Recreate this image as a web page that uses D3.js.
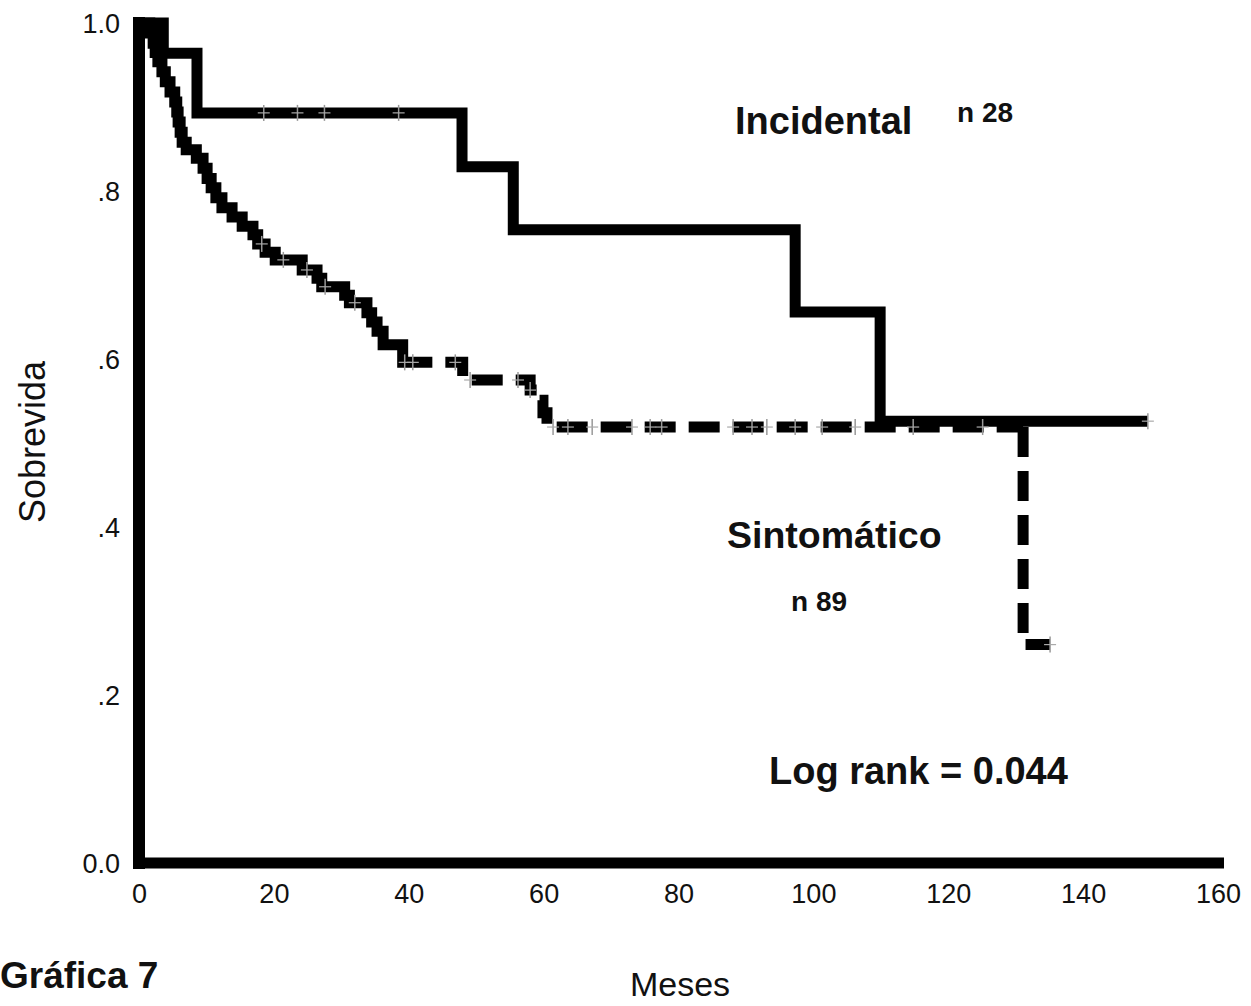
<!DOCTYPE html>
<html>
<head>
<meta charset="utf-8">
<script src="https://cdn.jsdelivr.net/npm/d3@7"></script>
<style>
  body { margin: 0; background: #fff; }
  text { font-family: "Liberation Sans", Arial, sans-serif; fill: #111; }
  .lbl { font-weight: bold; }
</style>
</head>
<body>
<svg id="chart"></svg>
<script>
// Kaplan-Meier steps: [month, survival after the step]
const incidental = [
  [0, 1.0], [3.6, 0.964], [8.6, 0.893], [47.9, 0.829], [55.5, 0.754],
  [97.3, 0.656], [109.9, 0.526], [149.6, 0.526]
];
const sintomatico = [
  [0, 1.0], [1.6, 0.988], [2.1, 0.976], [2.4, 0.965], [2.8, 0.954], [3.4, 0.942],
  [3.9, 0.930], [4.6, 0.918], [5.3, 0.906], [5.6, 0.894], [5.8, 0.882], [6.1, 0.870],
  [6.4, 0.858], [7.0, 0.849], [8.5, 0.839], [9.5, 0.827], [10.1, 0.815], [10.7, 0.804],
  [11.4, 0.792], [12.3, 0.780], [13.8, 0.769], [15.3, 0.758], [16.9, 0.748], [17.6, 0.737],
  [18.7, 0.727], [20.2, 0.718], [24.2, 0.706], [26.4, 0.696], [27.1, 0.686], [30.5, 0.676],
  [31.2, 0.667], [33.8, 0.655], [34.5, 0.644], [35.3, 0.633], [36.2, 0.617], [39.1, 0.596],
  [48.0, 0.575], [58.0, 0.563], [59.0, 0.551], [59.9, 0.536], [60.5, 0.519],
  [131.1, 0.260], [135.1, 0.260]
];
// censored observations (months)
const incidentalCensor = [18.5, 23.5, 27.5, 38.5, 149.6];
const sintomaticoCensor = [18.2, 21.4, 24.9, 27.6, 32.0, 39.4, 40.6, 46.9, 49.1, 56.2, 58.0,
  61.4, 63.6, 67.2, 73.1, 75.8, 77.5, 88.1, 90.9, 93.1, 97.3, 101.3, 106.2, 114.8, 125.1, 135.1];

const xTicks = [0, 20, 40, 60, 80, 100, 120, 140, 160];
const yTicks = [0, 0.2, 0.4, 0.6, 0.8, 1.0];
const yTickLabels = ['0.0', '.2', '.4', '.6', '.8', '1.0'];

const width = 1251, height = 1006;
// the dense early steps print as a continuous line, the dashes show after this month
const DASH_FROM = 43.5;

const svg = d3.select('#chart')
  .attr('width', width)
  .attr('height', height);

svg.append('rect').attr('width', width).attr('height', height).attr('fill', '#fff');

const x = d3.scaleLinear().domain([0, 160]).range([139, 1218]);
const y = d3.scaleLinear().domain([0, 1]).range([863, 23]);

// axes: thick lines, no tick marks
svg.append('line')
  .attr('x1', x(0)).attr('x2', x(0))
  .attr('y1', y(1) - 6).attr('y2', y(0) + 6)
  .attr('stroke', '#000').attr('stroke-width', 12);

svg.append('line')
  .attr('x1', x(0) - 6).attr('x2', x(160) + 6)
  .attr('y1', y(0)).attr('y2', y(0))
  .attr('stroke', '#000').attr('stroke-width', 11);

const xAxis = d3.axisBottom(x).tickValues(xTicks).tickSize(0).tickPadding(0).tickFormat(d3.format('d'));
const xAxisG = svg.append('g').attr('transform', `translate(0,${y(0)})`).call(xAxis);
xAxisG.select('.domain').remove();
xAxisG.selectAll('text')
  .attr('dy', null).attr('y', 40)
  .style('font-size', '27px').style('font-family', '"Liberation Sans", Arial, sans-serif')
  .attr('fill', '#111');

const yAxis = d3.axisLeft(y).tickValues(yTicks).tickSize(0).tickPadding(0)
  .tickFormat((d, i) => yTickLabels[i]);
const yAxisG = svg.append('g').attr('transform', `translate(${x(0)},0)`).call(yAxis);
yAxisG.select('.domain').remove();
yAxisG.selectAll('text')
  .attr('x', -19).attr('dy', '0.36em')
  .style('font-size', '27px').style('font-family', '"Liberation Sans", Arial, sans-serif')
  .attr('fill', '#111');

const line = d3.line()
  .x(d => x(d[0]))
  .y(d => y(d[1]))
  .curve(d3.curveStepAfter);

function valueAt(series, t) {
  const i = d3.bisector(d => d[0]).right(series, t) - 1;
  return series[Math.max(0, i)][1];
}

// cut a step series into the part between t0 and t1
function slice(series, t0, t1) {
  const inner = series.filter(d => d[0] > t0 && d[0] < t1);
  return [[t0, valueAt(series, t0)]].concat(inner, [[t1, valueAt(series, t1 - 1e-6)]]);
}

const lastDrop = sintomatico[sintomatico.length - 2][0];
const lastT = sintomatico[sintomatico.length - 1][0];

const sinParts = [
  { data: slice(sintomatico, 0, DASH_FROM), dash: null, offset: 0 },
  { data: slice(sintomatico, DASH_FROM, lastDrop), dash: '31,13', offset: 31 },
  { data: [[lastDrop, valueAt(sintomatico, lastDrop - 1e-6)]].concat(sintomatico.slice(-2)), dash: '30,14', offset: 0 }
];

svg.selectAll('.sin-part')
  .data(sinParts)
  .join('path')
  .attr('class', 'sin-part')
  .attr('d', d => line(d.data))
  .attr('fill', 'none')
  .attr('stroke', '#000')
  .attr('stroke-width', 11)
  .attr('stroke-dasharray', d => d.dash)
  .attr('stroke-dashoffset', d => d.offset)
  .attr('stroke-linejoin', 'miter');

svg.append('path')
  .datum(incidental)
  .attr('d', line)
  .attr('fill', 'none')
  .attr('stroke', '#000')
  .attr('stroke-width', 11)
  .attr('stroke-linejoin', 'miter');

// censor marks
function drawCensor(series, times) {
  const g = svg.append('g');
  times.forEach(t => {
    const cx = x(t), cy = y(valueAt(series, t));
    g.append('line').attr('x1', cx).attr('x2', cx).attr('y1', cy - 8).attr('y2', cy + 8)
      .attr('stroke', '#999').attr('stroke-width', 1.5);
    g.append('line').attr('x1', cx - 6).attr('x2', cx + 6).attr('y1', cy).attr('y2', cy)
      .attr('stroke', '#aaa').attr('stroke-width', 1.2);
  });
}
drawCensor(incidental, incidentalCensor);
drawCensor(sintomatico, sintomaticoCensor);

// annotations
svg.append('text').attr('class', 'lbl').attr('x', 735).attr('y', 134)
  .style('font-size', '38px').text('Incidental');
svg.append('text').attr('class', 'lbl').attr('x', 957).attr('y', 122)
  .style('font-size', '28px').text('n 28');
svg.append('text').attr('class', 'lbl').attr('x', 727).attr('y', 548)
  .style('font-size', '37.5px').text('Sintomático');
svg.append('text').attr('class', 'lbl').attr('x', 791).attr('y', 611)
  .style('font-size', '28px').text('n 89');
svg.append('text').attr('class', 'lbl').attr('x', 769).attr('y', 784)
  .style('font-size', '38px').text('Log rank = 0.044');
svg.append('text').attr('class', 'lbl').attr('x', 0).attr('y', 988)
  .style('font-size', '37px').text('Gráfica 7');

// axis titles
svg.append('text').attr('x', 680).attr('y', 996)
  .attr('text-anchor', 'middle').style('font-size', '34px').text('Meses');
svg.append('text')
  .attr('transform', 'translate(45,442) rotate(-90)')
  .attr('text-anchor', 'middle').style('font-size', '36px').text('Sobrevida');
</script>
</body>
</html>
